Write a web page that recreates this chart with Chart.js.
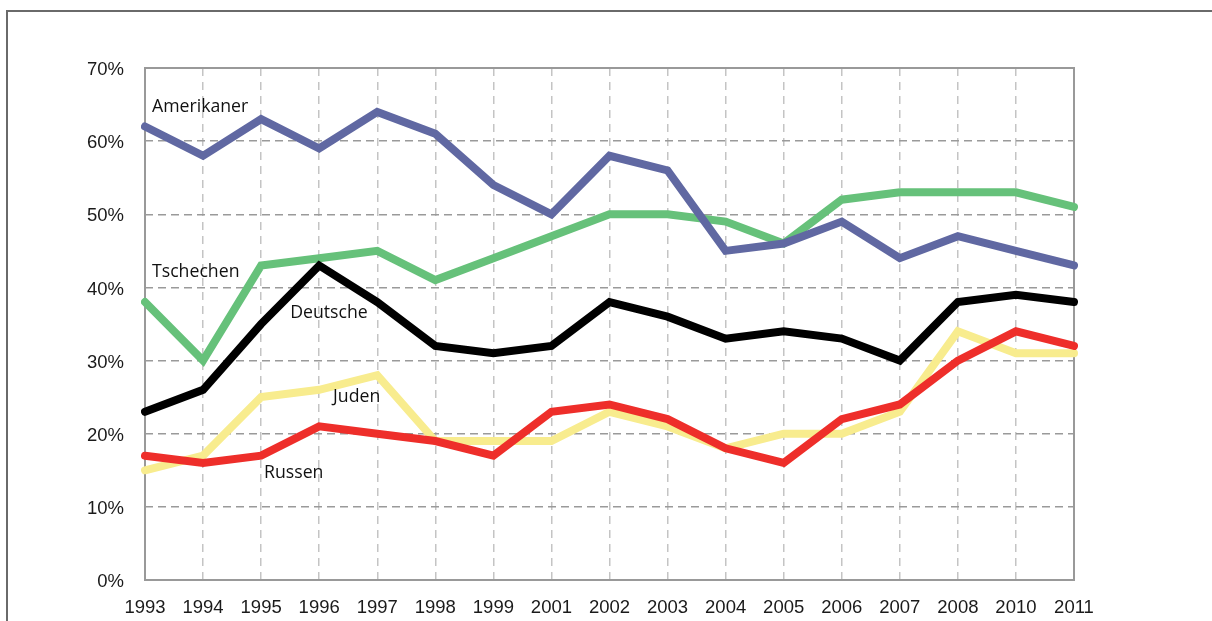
<!DOCTYPE html>
<html>
<head>
<meta charset="utf-8">
<script src="https://cdn.jsdelivr.net/npm/chart.js@4"></script>
<style>
  html, body { margin: 0; padding: 0; background: #fff; }
  #wrap { width: 1212px; height: 621px; position: relative; }
</style>
</head>
<body>
<div id="wrap"><canvas id="chart"></canvas></div>
<script>
const years = ['1993', '1994', '1995', '1996', '1997', '1998', '1999', '2001', '2002',
    '2003', '2004', '2005', '2006', '2007', '2008', '2010', '2011'];

const amerikaner = [62, 58, 63, 59, 64, 61, 54, 50, 58, 56, 45, 46, 49, 44, 47, 45, 43];
const tschechen = [38, 30, 43, 44, 45, 41, 44, 47, 50, 50, 49, 46, 52, 53, 53, 53, 51];
const deutsche = [23, 26, 35, 43, 38, 32, 31, 32, 38, 36, 33, 34, 33, 30, 38, 39, 38];
const juden = [15, 17, 25, 26, 28, 19, 19, 19, 23, 21, 18, 20, 20, 23, 34, 31, 31];
const russen = [17, 16, 17, 21, 20, 19, 17, 23, 24, 22, 18, 16, 22, 24, 30, 34, 32];

// series names written inside the plot, anchored in data coordinates (index, percent)
const seriesNames = ['Amerikaner', 'Tschechen', 'Deutsche', 'Juden', 'Russen'];
const nameAt = [[0.12, 64.7], [0.12, 42.1], [2.5, 36.5], [3.24, 25.0], [2.05, 14.6]];

function line(label, values, color, order) {
    return {
        label: label,
        data: values,
        borderColor: color,
        backgroundColor: color,
        borderWidth: 8,
        pointRadius: 0,
        tension: 0,
        borderCapStyle: 'round',
        borderJoinStyle: 'miter',
        order: order
    };
}

// outer box, plot frame and series names
const decor = {
    id: 'decor',
    beforeDraw(chart) {
        const c = chart.ctx;
        c.save();
        c.strokeStyle = '#6a6a6a';
        c.lineWidth = 2;
        c.beginPath();
        c.moveTo(7, 621);
        c.lineTo(7, 11);
        c.lineTo(1212, 11);
        c.stroke();
        c.restore();
    },
    beforeDatasetsDraw(chart) {
        const a = chart.chartArea;
        const c = chart.ctx;
        c.save();
        c.strokeStyle = '#999';
        c.lineWidth = 2;
        c.strokeRect(a.left, a.top, a.right - a.left, a.bottom - a.top);
        c.restore();
    },
    afterDatasetsDraw(chart) {
        const c = chart.ctx;
        const xs = chart.scales.x, ys = chart.scales.y;
        c.save();
        c.fillStyle = '#111';
        c.font = '17.7px "Open Sans"';
        c.textAlign = 'left';
        c.textBaseline = 'middle';
        seriesNames.forEach((n, i) => {
            c.fillText(n, xs.getPixelForValue(nameAt[i][0]), ys.getPixelForValue(nameAt[i][1]));
        });
        c.restore();
    }
};

const config = {
    type: 'line',
    data: {
        labels: years,
        datasets: [
            line('Amerikaner', amerikaner, '#6068a2', 2),
            line('Tschechen', tschechen, '#66c17a', 5),
            line('Deutsche', deutsche, '#000000', 3),
            line('Juden', juden, '#f8ec8e', 4),
            line('Russen', russen, '#ee2e2a', 1)
        ]
    },
    options: {
        responsive: true,
        maintainAspectRatio: false,
        animation: false,
        layout: {
            padding: { top: 68, right: 138, bottom: 0, left: 0 }
        },
        plugins: {
            legend: { display: false },
            tooltip: { enabled: false }
        },
        scales: {
            x: {
                grid: { color: '#c4c4c4', lineWidth: 1.5, drawTicks: false },
                border: { display: false, dash: [8, 6] },
                ticks: {
                    color: '#1a1a1a',
                    font: { family: 'Liberation Sans', size: 18.5 },
                    padding: 17,
                    maxRotation: 0,
                    autoSkip: false
                },
                afterFit(scale) { scale.height = 41; }
            },
            y: {
                min: 0,
                max: 70,
                grid: { color: '#9a9a9a', lineWidth: 1.5, drawTicks: false },
                border: { display: false, dash: [8, 5] },
                ticks: {
                    stepSize: 10,
                    color: '#1a1a1a',
                    font: { family: 'Liberation Sans', size: 18.5 },
                    padding: 21,
                    labelOffset: 2,
                    callback: v => v + '%'
                },
                afterFit(scale) { scale.width = 145; }
            }
        }
    },
    plugins: [decor]
};

const myChart = new Chart(document.getElementById('chart'), config);
</script>
</body>
</html>
